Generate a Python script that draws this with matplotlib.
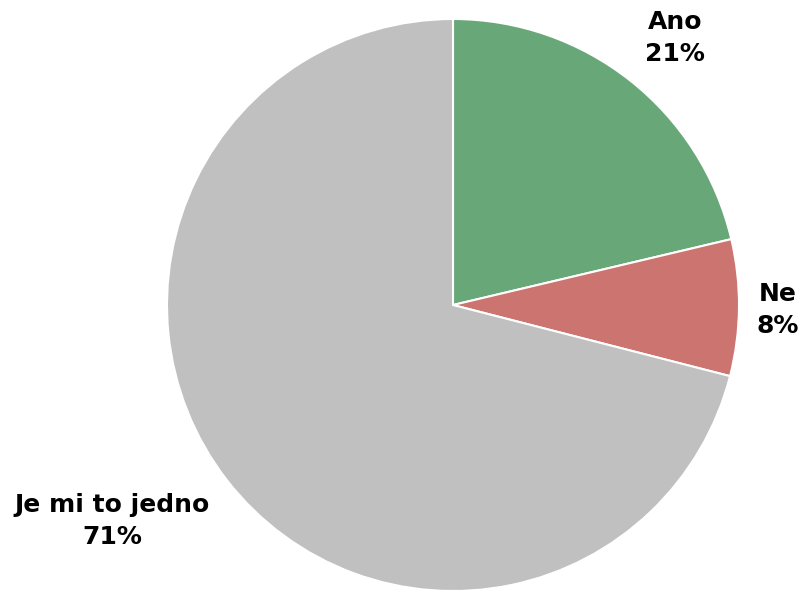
import matplotlib
matplotlib.use("Agg")
import matplotlib.pyplot as plt

categories = ["Ano", "Ne", "Je mi to jedno"]
values = [21.3, 7.7, 71.0]
pct_labels = ["21%", "8%", "71%"]
colors = ["#68a878", "#cc7470", "#c0c0c0"]

W, H = 806, 591
fig = plt.figure(figsize=(W / 100, H / 100), dpi=100)
ax = fig.add_axes([0, 0, 1, 1])

cx, cy, r = 453, H - 305, 286
ax.pie(values, colors=colors, startangle=90, counterclock=False,
       center=(cx, cy), radius=r, frame=True,
       wedgeprops=dict(edgecolor="white", linewidth=1.5))
ax.set_xlim(0, W)
ax.set_ylim(0, H)
ax.set_aspect("equal")
ax.axis("off")

label_pos = [(675, H - 38), (778, H - 310), (112, H - 521)]
for cat, p, (x, y) in zip(categories, pct_labels, label_pos):
    ax.text(x, y, f"{cat}\n{p}", ha="center", va="center",
            fontsize=18, fontweight="bold", family="DejaVu Sans",
            linespacing=1.4, color="black")

fig.savefig("out.png", dpi=100)
